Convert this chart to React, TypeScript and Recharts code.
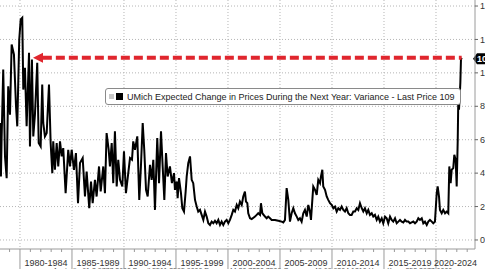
import {
  LineChart,
  Line,
  XAxis,
  YAxis,
  CartesianGrid,
  ReferenceLine,
  ReferenceDot,
  Legend,
  Customized,
} from 'recharts'

// decimal years
const dates = [
  1978.08, 1978.17, 1978.24, 1978.39, 1978.56, 1978.72, 1978.87, 1979.04, 1979.2, 1979.42,
  1979.62, 1979.74, 1979.93, 1980.07, 1980.22, 1980.32, 1980.48, 1980.64, 1980.87, 1980.96,
  1981.15, 1981.28, 1981.44, 1981.66, 1981.8, 1981.99, 1982.14, 1982.24, 1982.4, 1982.57,
  1982.79, 1982.95, 1983.11, 1983.2, 1983.36, 1983.53, 1983.68, 1983.85, 1984.01, 1984.16,
  1984.39, 1984.64, 1984.81, 1984.97, 1985.19, 1985.38, 1985.58,
  1985.77, 1986.03, 1986.25, 1986.41, 1986.66, 1986.83, 1986.99, 1987.21, 1987.37, 1987.6,
  1987.76, 1988.01, 1988.17, 1988.33, 1988.53, 1988.65, 1988.82, 1988.97, 1989.13, 1989.3,
  1989.45, 1989.62, 1989.84, 1990.0, 1990.19, 1990.41, 1990.58, 1990.77, 1990.89, 1991.06,
  1991.28, 1991.47, 1991.63, 1991.8, 1991.95, 1992.12, 1992.28, 1992.5, 1992.66, 1992.82,
  1992.98, 1993.2, 1993.37, 1993.56, 1993.72, 1993.88, 1994.04, 1994.2, 1994.42, 1994.61,
  1994.81,
  1994.9, 1995.07, 1995.16, 1995.29, 1995.48, 1995.61, 1995.77, 1995.93, 1996.03, 1996.18,
  1996.35, 1996.51, 1996.66, 1996.83, 1996.99, 1997.14, 1997.31, 1997.47, 1997.63, 1997.79,
  1997.95, 1998.11, 1998.27, 1998.43, 1998.59, 1998.75, 1998.91, 1999.07, 1999.23, 1999.39,
  1999.55, 1999.71, 1999.87, 2000.03, 2000.19, 2000.36, 2000.51, 2000.67, 2000.84, 2000.99,
  2001.15, 2001.32, 2001.47, 2001.63, 2001.73, 2001.86, 2001.95, 2002.12, 2002.28, 2002.6,
  2002.76, 2002.91, 2003.08, 2003.17, 2003.3, 2003.56, 2003.72, 2003.87, 2004.04, 2004.2,
  2004.52, 2004.84, 2005.16,
  2005.32, 2005.48, 2005.64, 2005.8, 2005.96, 2006.12, 2006.28, 2006.44, 2006.61, 2006.76,
  2006.92, 2007.08, 2007.24, 2007.4, 2007.57, 2007.72, 2007.88, 2007.98, 2008.11, 2008.2,
  2008.37, 2008.53, 2008.68, 2008.85, 2008.94, 2009.07, 2009.16, 2009.33, 2009.49, 2009.64,
  2009.81, 2009.97, 2010.13, 2010.29, 2010.45, 2010.61, 2010.77, 2010.93, 2011.09, 2011.25,
  2011.41, 2011.57, 2011.73, 2011.89, 2012.05, 2012.21, 2012.38, 2012.53, 2012.69, 2012.86,
  2013.01, 2013.17, 2013.34, 2013.49, 2013.65, 2013.82, 2013.97, 2014.13, 2014.3, 2014.45,
  2014.61, 2014.78, 2014.93, 2015.1,
  2015.26, 2015.41, 2015.58, 2015.74, 2015.89, 2016.06, 2016.22, 2016.38, 2016.54, 2016.7,
  2016.86, 2017.02, 2017.18, 2017.34, 2017.5, 2017.66, 2017.82, 2017.98, 2018.14, 2018.3,
  2018.46, 2018.63, 2018.78, 2018.94, 2019.11, 2019.26, 2019.42, 2019.59, 2019.74, 2019.9,
  2020.07, 2020.16, 2020.29, 2020.38, 2020.55, 2020.7, 2020.87, 2021.03, 2021.18, 2021.28,
  2021.41, 2021.51, 2021.66, 2021.76, 2021.89, 2021.99, 2022.09, 2022.15, 2022.21, 2022.28,
  2022.34, 2022.4, 2022.47,
]

const variance = [
  70, 38, 62, 102, 50, 37, 92, 75, 117, 111,
  80, 68, 120, 132, 133, 90, 103, 68, 112, 56,
  108, 62, 75, 106, 58, 56, 93, 70, 62, 64,
  93, 58, 40, 59, 42, 58, 44, 59, 50, 55,
  28, 54, 44, 54, 42, 52, 22,
  46, 49, 26, 41, 19, 35, 22, 36, 26, 44,
  29, 44, 28, 64, 54, 44, 58, 34, 65, 32,
  48, 36, 32, 53, 28, 40, 49, 48, 59, 54,
  62, 24, 44, 70, 54, 30, 26, 45, 36, 48,
  18, 61, 34, 65, 44, 24, 52, 38, 44, 34,
  40,
  30, 35, 25, 37, 28, 19, 17, 29, 38, 46,
  50, 36, 34, 24, 20, 17, 18, 15, 12, 17,
  14, 10, 9, 11, 10, 11.5, 10, 12, 9, 11,
  9, 11, 12, 10, 12, 15, 18, 17, 21, 19,
  23, 21, 26, 29, 23, 22, 16, 13, 12.5, 14,
  15, 16, 15, 22, 16, 14, 13, 14, 13, 12,
  12, 11.5, 11,
  10.5, 12, 31, 24, 11, 16, 19, 16, 14, 12,
  13, 11, 16, 18, 14, 21, 17, 12, 24, 32,
  30, 27, 36, 34, 38, 42, 32, 30, 26, 24,
  22, 21, 19, 20, 17, 19, 18, 20, 18, 17,
  19, 16, 15, 15, 17, 17, 19, 18, 22, 19,
  17, 19, 16, 18, 15, 16, 14, 15, 12, 14,
  11, 13, 10, 14,
  13, 10, 14, 12, 11, 13, 10, 11, 12, 11,
  10.5, 12, 11, 11, 10, 10.5, 11, 10, 11, 13,
  12, 13, 10, 11, 9, 11, 12, 11, 10, 11,
  28, 32, 26, 18, 16, 18, 16, 17, 16, 44,
  34, 42, 43, 51, 48, 32, 60, 87, 78, 86,
  94, 108, 109,
]

const periodStarts = [1980, 1985, 1990, 1995, 2000, 2005, 2010, 2015, 2020]
const periodLabels = [
  '1980-1984', '1985-1989', '1990-1994', '1995-1999', '2000-2004',
  '2005-2009', '2010-2014', '2015-2019', '2020-2024',
]
const yTicks = [0, 20, 40, 60, 80, 100, 120, 140]

const LAST = 109
const ARROW_TIP = 1981.25
const ARROW_TAIL = 1982.2
const SERIES = 'UMich Expected Change in Prices During the Next Year: Variance'
const FOOTER =
  'Australia 61 2 9777 8600 Brazil 5511 2395 9000 Europe 44 20 7330 7500 Germany 49 69 9204 1210 Hong Kong 852 2977 6000'

const X_DOMAIN: [number, number] = [1978.08, 2023.75]
const Y_DOMAIN: [number, number] = [-5.4, 143.6]

const data = dates.map((d, i) => ({ date: d, value: variance[i] }))

const labelPos = periodStarts.map((s) => Math.min(s + 2.5, (s + X_DOMAIN[1]) / 2))
const yearTicks: number[] = []
for (let y = Math.ceil(X_DOMAIN[0]); y <= Math.floor(X_DOMAIN[1]); y++) yearTicks.push(y)
const xTicks = [...yearTicks, ...labelPos]

const FONT = "'Liberation Sans Narrow', 'Arial Narrow', 'Liberation Sans', sans-serif"
const RED = '#e0262e'

const XTick = ({ x, y, payload }: any) => {
  const v = payload.value
  if (Number.isInteger(v)) {
    const major = v % 5 === 0
    return <line x1={x} x2={x} y1={y} y2={y + (major ? 26 : 3)} stroke="#9a9a9a" />
  }
  const i = labelPos.indexOf(v)
  return (
    <text x={x} y={y + 17} textAnchor="middle" fontSize={9} fill="#333" fontFamily={FONT}>
      {periodLabels[i]}
    </text>
  )
}

const LastTag = ({ viewBox }: any) => {
  const x = viewBox.x + viewBox.width - 2
  const y = viewBox.y + 1
  return (
    <g>
      <path
        d={`M${x},${y} L${x + 4},${y - 5.5} L${x + 22},${y - 5.5} L${x + 22},${y + 5.5} L${x + 4},${y + 5.5} Z`}
        fill="#000"
      />
      <text x={x + 4} y={y + 3.5} fontSize={9} fontWeight="bold" fill="#fff" fontFamily={FONT}>
        {LAST}
      </text>
    </g>
  )
}

const ArrowHead = ({ cx, cy }: any) => (
  <polygon points={`${cx},${cy} ${cx + 10},${cy - 5} ${cx + 10},${cy + 5}`} fill={RED} />
)

const LegendBox = () => (
  <div
    style={{
      display: 'flex',
      alignItems: 'center',
      gap: 2,
      height: 15,
      padding: '0 5px 0 3px',
      border: '1px solid #8a8a8a',
      borderRadius: 3,
      background: '#fff',
      fontFamily: FONT,
      fontSize: 9,
      color: '#222',
      whiteSpace: 'nowrap',
    }}
  >
    <span style={{ width: 5, height: 5, background: '#c8c8c8', display: 'inline-block' }} />
    <span style={{ width: 7, height: 7, background: '#000', display: 'inline-block', marginRight: 2 }} />
    {SERIES} - Last Price {LAST}
  </div>
)

const Footer = () => (
  <text x={53} y={272.5} fontSize={7} fill="#555" fontFamily={FONT}>
    {FOOTER}
  </text>
)

export default function App() {
  return (
    <div style={{ position: 'absolute', left: 0, top: 0, background: '#fff' }}>
      <LineChart width={485} height={275} data={data} margin={{ top: 0, right: 0, bottom: 0, left: 0 }}>
        <CartesianGrid
          stroke="#b5b5b5"
          strokeDasharray="1 2"
          verticalValues={periodStarts}
          horizontalValues={yTicks}
        />
        <XAxis
          dataKey="date"
          type="number"
          domain={X_DOMAIN}
          ticks={xTicks}
          allowDataOverflow
          interval={0}
          height={26}
          tickSize={0}
          tickMargin={0}
          tickLine={false}
          tick={<XTick />}
          axisLine={{ stroke: '#9a9a9a' }}
        />
        <YAxis
          orientation="right"
          domain={Y_DOMAIN}
          ticks={yTicks}
          allowDataOverflow
          width={10}
          tickSize={3}
          tickMargin={2}
          tick={{ fontSize: 9, fill: '#333', fontFamily: FONT, textAnchor: 'start' }}
          axisLine={{ stroke: '#9a9a9a' }}
          tickLine={{ stroke: '#666' }}
        />
        <Legend
          layout="horizontal"
          verticalAlign="middle"
          content={<LegendBox />}
          wrapperStyle={{ left: 105, top: 88, width: 'auto', height: 'auto' }}
        />
        <Line
          dataKey="value"
          name={SERIES}
          stroke="#000"
          strokeWidth={2}
          dot={false}
          activeDot={false}
          type="linear"
          isAnimationActive={false}
        />
        <ReferenceLine
          segment={[
            { x: ARROW_TAIL, y: LAST },
            { x: dates[dates.length - 1], y: LAST },
          ]}
          stroke={RED}
          strokeWidth={4}
          strokeDasharray="9 4"
        />
        <ReferenceDot x={ARROW_TIP} y={LAST} shape={<ArrowHead />} />
        <ReferenceLine y={LAST} stroke="none" label={<LastTag />} />
        <Customized component={Footer} />
      </LineChart>
    </div>
  )
}
